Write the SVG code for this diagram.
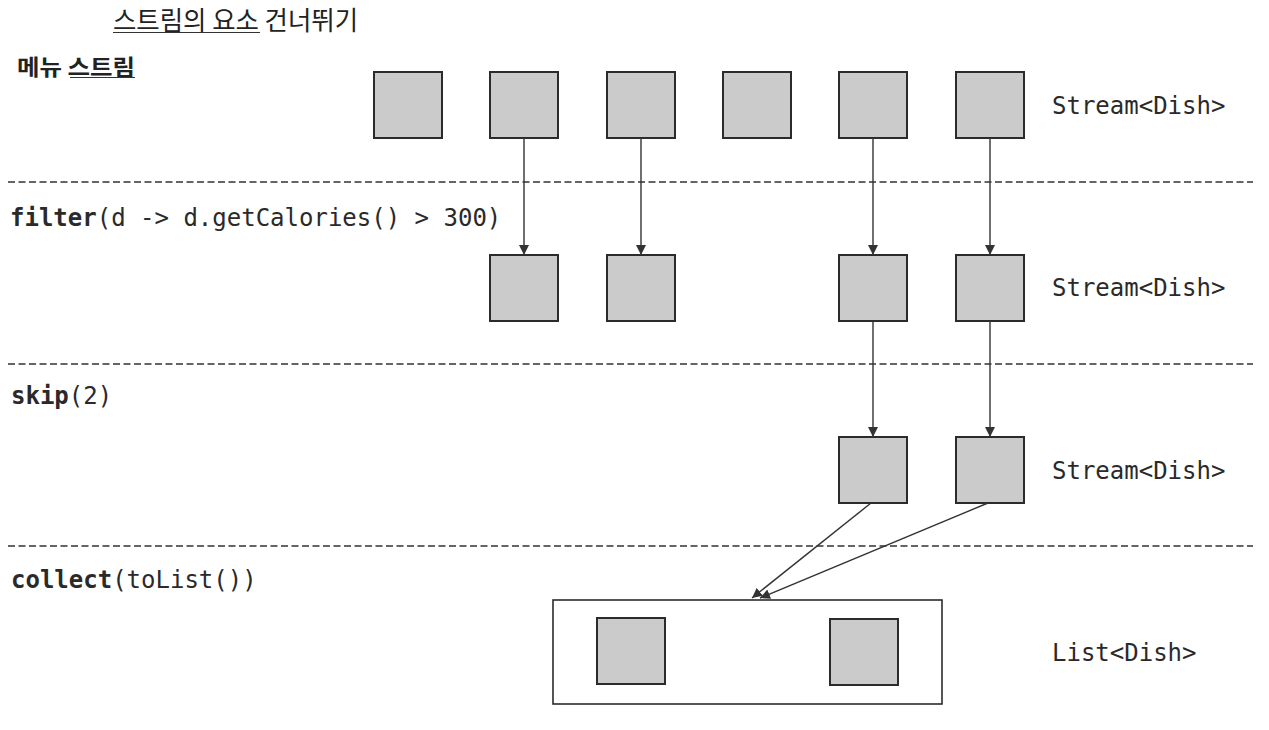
<svg xmlns="http://www.w3.org/2000/svg" width="1269" height="730" viewBox="0 0 1269 730">
<defs>
<style>
.ttl{font-family:"Noto Sans CJK KR","Noto Sans",sans-serif;fill:#222}
.code{font-family:"DejaVu Sans Mono","Liberation Mono",monospace;font-size:24px;fill:#2a2a2a}
.b{font-weight:bold}
.box{fill:#cbcbcb;stroke:#2b2b2b;stroke-width:2}
.sep{stroke:#333;stroke-width:1.5;stroke-dasharray:7 3.5;fill:none}
.con{stroke:#333;stroke-width:1.4;fill:none;marker-end:url(#ah)}
.ul{stroke:#333;stroke-width:1}
</style>
<marker id="ah" viewBox="0 0 10 10" refX="10" refY="5" markerWidth="10" markerHeight="10" markerUnits="userSpaceOnUse" orient="auto">
<path d="M0,0 L10,5 L0,10 z" fill="#333"/>
</marker>
</defs>
<rect width="1269" height="730" fill="#fff"/>
<g id="titles">
<text class="ttl" x="113" y="30" font-size="26" textLength="245" lengthAdjust="spacingAndGlyphs">스트림의 요소 건너뛰기</text>
<line class="ul" x1="113" y1="32.5" x2="260" y2="32.5"/>
<text class="ttl" x="17" y="75" font-size="22" font-weight="bold" textLength="118" lengthAdjust="spacingAndGlyphs">메뉴 스트림</text>
<line class="ul" x1="70" y1="77.5" x2="135" y2="77.5"/>
</g>
<g id="separators">
<line class="sep" x1="8" y1="182" x2="1253" y2="182"/>
<line class="sep" x1="8" y1="364" x2="1253" y2="364"/>
<line class="sep" x1="8" y1="546" x2="1253" y2="546"/>
</g>
<g id="labels">
<text class="code" x="10" y="226"><tspan class="b">filter</tspan>(d -&gt; d.getCalories() &gt; 300)</text>
<text class="code" x="11" y="404"><tspan class="b">skip</tspan>(2)</text>
<text class="code" x="11" y="588"><tspan class="b">collect</tspan>(toList())</text>
<text class="code" x="1052" y="114">Stream&lt;Dish&gt;</text>
<text class="code" x="1052" y="296">Stream&lt;Dish&gt;</text>
<text class="code" x="1052" y="479">Stream&lt;Dish&gt;</text>
<text class="code" x="1052" y="661">List&lt;Dish&gt;</text>
</g>
<g id="row1">
<rect id="n1a" class="box" x="374" y="72" width="68" height="66"/>
<rect id="n1b" class="box" x="490" y="72" width="68" height="66"/>
<rect id="n1c" class="box" x="607" y="72" width="68" height="66"/>
<rect id="n1d" class="box" x="723" y="72" width="68" height="66"/>
<rect id="n1e" class="box" x="839" y="72" width="68" height="66"/>
<rect id="n1f" class="box" x="956" y="72" width="68" height="66"/>
</g>
<g id="row2">
<rect id="n2b" class="box" x="490" y="255" width="68" height="66"/>
<rect id="n2c" class="box" x="607" y="255" width="68" height="66"/>
<rect id="n2e" class="box" x="839" y="255" width="68" height="66"/>
<rect id="n2f" class="box" x="956" y="255" width="68" height="66"/>
</g>
<g id="row3">
<rect id="n3e" class="box" x="839" y="437" width="68" height="66"/>
<rect id="n3f" class="box" x="956" y="437" width="68" height="66"/>
</g>
<g id="list">
<rect id="listbox" x="553" y="600" width="389" height="104" fill="#fff" stroke="#2b2b2b" stroke-width="1.6"/>
<rect id="l1" class="box" x="597" y="618" width="68" height="66"/>
<rect id="l2" class="box" x="830" y="619" width="68" height="66"/>
</g>
<g id="connectors">
<line class="con" x1="524" y1="138" x2="524" y2="255"/>
<line class="con" x1="641" y1="138" x2="641" y2="255"/>
<line class="con" x1="873" y1="138" x2="873" y2="255"/>
<line class="con" x1="990" y1="138" x2="990" y2="255"/>
<line class="con" x1="873" y1="321" x2="873" y2="437"/>
<line class="con" x1="990" y1="321" x2="990" y2="437"/>
<line class="con" x1="871" y1="503" x2="752" y2="598"/>
<line class="con" x1="988" y1="503" x2="760" y2="598"/>
</g>
</svg>
